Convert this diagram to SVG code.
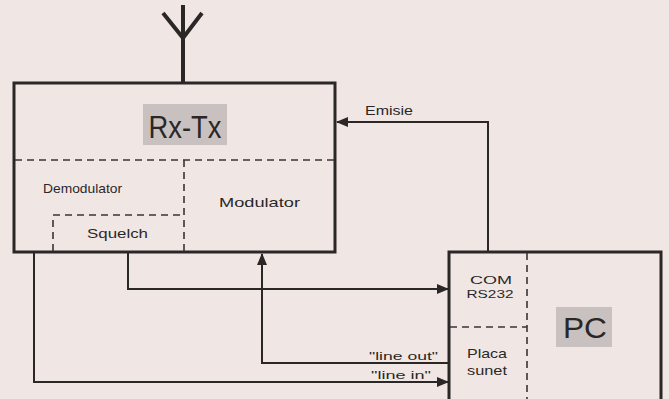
<svg xmlns="http://www.w3.org/2000/svg" width="669" height="399" viewBox="0 0 669 399">
<style>
.box{fill:none;stroke:#2b2727;stroke-width:3}
.dash{fill:none;stroke:#3a3434;stroke-width:1.6;stroke-dasharray:7 5}
.conn{fill:none;stroke:#2b2727;stroke-width:2}
.lbl{fill:#c9c1bf}
text{font-family:"Liberation Sans",Arial,sans-serif;fill:#2b2727}
.t13{font-size:13.5px}
.t12{font-size:11.5px}
.t11{font-size:11px}
</style>
<defs>
<marker id="arr" viewBox="0 0 12 10" refX="11" refY="5" markerWidth="12" markerHeight="10" markerUnits="userSpaceOnUse" orient="auto">
<path d="M0,0 L12,5 L0,10 Z" fill="#2b2727"/>
</marker>
</defs>
<rect width="669" height="399" fill="#f0e7e4"/>
<g id="antenna">
<path d="M183,5 V82 M163,13 L183,38 L202,13" fill="none" stroke="#2b2727" stroke-width="4" stroke-linejoin="miter"/>
</g>
<g id="rxtx">
<rect class="box" x="14" y="83" width="321" height="169"/>
<rect class="lbl" x="143" y="104" width="84" height="41"/>
<text x="185" y="138" text-anchor="middle" font-size="31" textLength="73" lengthAdjust="spacingAndGlyphs">Rx-Tx</text>
<path class="dash" d="M15,160 H334 M184,160 V251"/>
<text class="t13" x="43" y="193" textLength="79" lengthAdjust="spacingAndGlyphs">Demodulator</text>
<text class="t13" x="219" y="207" textLength="81" lengthAdjust="spacingAndGlyphs">Modulator</text>
<g id="squelch">
<path class="dash" d="M53,251 V215 H184"/>
<text class="t13" x="87" y="238" textLength="61" lengthAdjust="spacingAndGlyphs">Squelch</text>
</g>
</g>
<g id="pc">
<rect class="box" x="449" y="252" width="212" height="160"/>
<path class="dash" d="M527,253 V399 M450,327 H527"/>
<text class="t12" x="491" y="284" text-anchor="middle" textLength="42" lengthAdjust="spacingAndGlyphs">COM</text>
<text class="t12" x="490" y="298" text-anchor="middle" textLength="47" lengthAdjust="spacingAndGlyphs">RS232</text>
<text class="t13" x="487" y="358" text-anchor="middle" textLength="40" lengthAdjust="spacingAndGlyphs">Placa</text>
<text class="t13" x="487" y="375" text-anchor="middle" textLength="40" lengthAdjust="spacingAndGlyphs">sunet</text>
<rect class="lbl" x="556" y="307" width="56" height="40"/>
<text x="585" y="338" text-anchor="middle" font-size="29" textLength="44" lengthAdjust="spacingAndGlyphs">PC</text>
</g>
<g id="connectors">
<path class="conn" d="M488,252 V122 H337" marker-end="url(#arr)"/>
<text class="t13" x="365" y="115" textLength="48" lengthAdjust="spacingAndGlyphs">Emisie</text>
<path class="conn" d="M128,252 V289 H448" marker-end="url(#arr)"/>
<path class="conn" d="M449,363 H262 V254" marker-end="url(#arr)"/>
<text class="t11" x="438" y="360" text-anchor="end" textLength="69" lengthAdjust="spacingAndGlyphs">"line out"</text>
<path class="conn" d="M34,252 V382 H448" marker-end="url(#arr)"/>
<text class="t11" x="431" y="379" text-anchor="end" textLength="60" lengthAdjust="spacingAndGlyphs">"line in"</text>
</g>
</svg>
